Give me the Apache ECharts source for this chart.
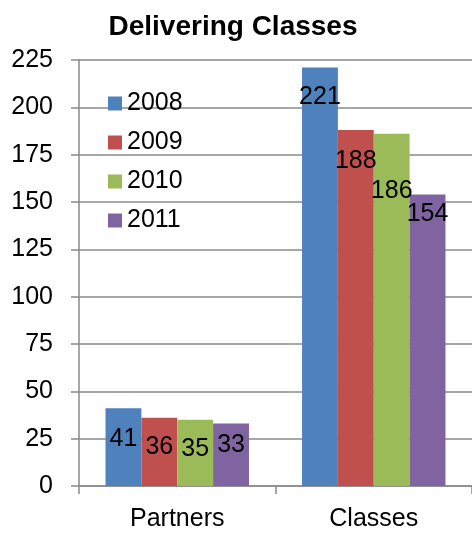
<!DOCTYPE html>
<html><head><meta charset="utf-8">
<script src="https://cdn.jsdelivr.net/npm/echarts@6/dist/echarts.min.js"></script>
<style>html,body{margin:0;padding:0;background:#fff}#c{width:472px;height:533px}</style>
</head><body><div id="c"></div>
<script>
const categories = ['Partners', 'Classes'];
const seriesNames = ['2008', '2009', '2010', '2011'];
const v2008 = [41, 221];
const v2009 = [36, 188];
const v2010 = [35, 186];
const v2011 = [33, 154];
const yTicks = [0, 25, 50, 75, 100, 125, 150, 175, 200, 225];

const colors = ['#4F81BD', '#C0504D', '#9BBB59', '#8064A2'];
// label drop (px below bar top, applied as offset) per series per category
const labelDrop = [[18, 17], [17, 19], [17, 45], [9, 7]];
const FONT = '"Liberation Sans", Arial, Helvetica, sans-serif';
const FS = 25;
const values = [v2008, v2009, v2010, v2011];

const series = seriesNames.map((n, i) => ({
  name: n,
  type: 'bar',
  barGap: '0%',
  barCategoryGap: '27%',
  itemStyle: { color: colors[i] },
  data: values[i].map((v, j) => ({
    value: v,
    label: { offset: [0, labelDrop[i][j]] }
  })),
  label: {
    show: true, position: 'insideTop', distance: 0,
    color: '#000', fontSize: FS, fontFamily: FONT
  }
}));

const chart = echarts.init(document.getElementById('c'));
chart.setOption({
  animation: false,
  backgroundColor: '#fff',
  title: {
    text: 'Delivering Classes', left: 228, top: 8, textAlign: 'center',
    textStyle: { fontSize: 28, fontWeight: 'bold', color: '#000', fontFamily: FONT }
  },
  legend: {
    orient: 'vertical', left: 103, top: 86,
    itemWidth: 14, itemHeight: 14, itemGap: 14, itemTextGap: 6,
    icon: 'rect',
    textStyle: { fontSize: FS, color: '#000', fontFamily: FONT, lineHeight: 25 },
    data: seriesNames
  },
  grid: { left: 79, right: 0, top: 60, bottom: 47, containLabel: false },
  xAxis: {
    type: 'category', data: categories,
    axisLine: { lineStyle: { color: '#8a8a8a', width: 1.5 } },
    axisTick: { show: true, length: 8, alignWithLabel: false, lineStyle: { color: '#8a8a8a', width: 1.5 } },
    axisLabel: { fontSize: FS, color: '#000', fontFamily: FONT, margin: 21 }
  },
  yAxis: {
    type: 'value', min: yTicks[0], max: yTicks[yTicks.length - 1], interval: 25,
    axisLine: { show: true, lineStyle: { color: '#8a8a8a', width: 1.5 } },
    axisTick: { show: true, length: 8, lineStyle: { color: '#8a8a8a', width: 1.5 } },
    splitLine: { show: true, lineStyle: { color: '#8a8a8a', width: 1.5 } },
    axisLabel: { fontSize: FS, color: '#000', fontFamily: FONT, margin: 26 }
  },
  series: series
});
</script>
</body></html>
